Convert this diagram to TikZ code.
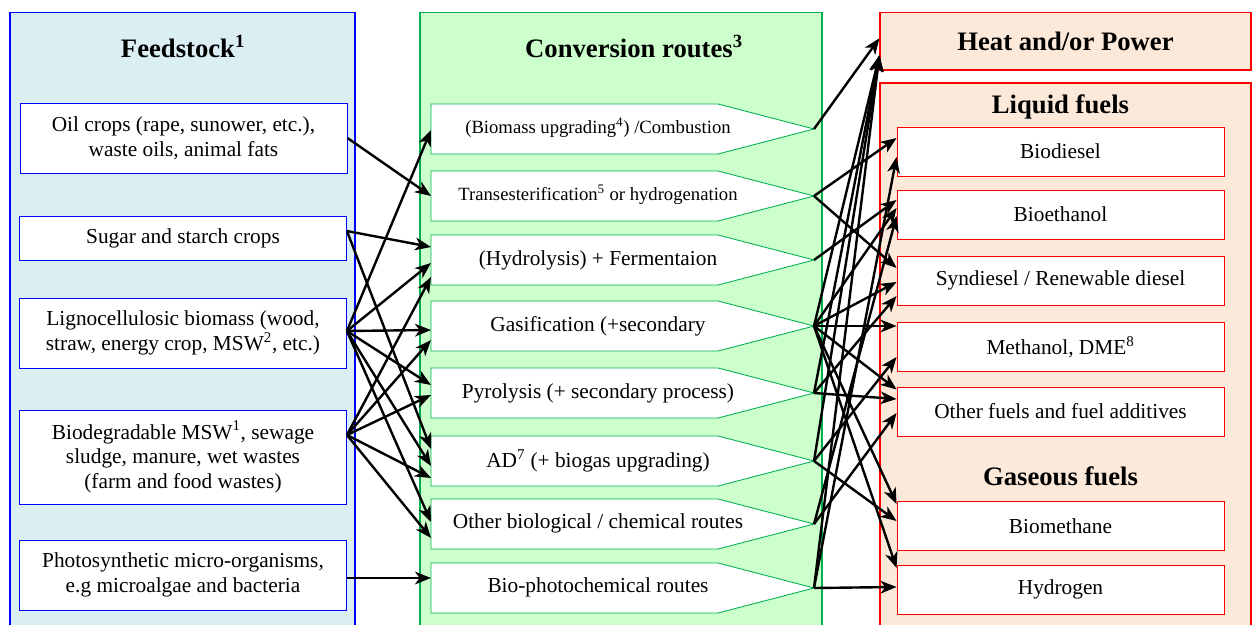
\documentclass[tikz,border=0pt]{standalone}
\usepackage{fontspec}
\setmainfont{Liberation Serif}
\usetikzlibrary{arrows.meta,calc}
\definecolor{fsfill}{HTML}{DAEEF3}
\definecolor{fsline}{HTML}{0000FF}
\definecolor{cvfill}{HTML}{CCFFCC}
\definecolor{cvline}{HTML}{00B050}
\definecolor{opfill}{HTML}{FDE9D9}
\definecolor{opline}{HTML}{FF0000}
\newcommand\rtshape[2]{%
  \draw[rshape] (431,#2-25) -- (718,#2-25) -- (814,#2) -- (718,#2+25) -- (431,#2+25) -- cycle;
  \coordinate (#1in) at (431,#2);
  \coordinate (#1out) at (814,#2);
}
\begin{document}
\begin{tikzpicture}[x=0.75pt,y=-0.75pt,
  panel/.style={line width=0.9pt},
  ttl/.style={font=\bfseries\fontsize{20}{24}\selectfont, inner sep=0pt},
  fbox/.style={draw=fsline, fill=white, line width=0.65pt, minimum width=245.25pt,
    align=center, font=\fontsize{16}{18.5}\selectfont, inner sep=0pt},
  obox/.style={draw=opline, fill=white, line width=0.65pt, minimum width=245.25pt,
    minimum height=36.75pt, align=center, font=\fontsize{16}{18.5}\selectfont, inner sep=0pt},
  rshape/.style={draw=cvline, fill=white, line width=0.65pt},
  rtext/.style={font=\fontsize{16}{18.5}\selectfont, inner sep=0pt},
  rsmall/.style={font=\fontsize{14}{16}\selectfont, inner sep=0pt},
  conn/.style={line width=1.8pt, -{Stealth[length=12pt,width=9.5pt,inset=3.5pt]}}
]
\useasboundingbox (0,0) rectangle (1258,625);
\clip (0,0) rectangle (1258,625);

% panels
\draw[panel, draw=fsline, fill=fsfill] (10,12.5) rectangle (355,640);
\draw[panel, draw=cvline, fill=cvfill] (420,12.5) rectangle (822,640);
\draw[panel, draw=opline, fill=opfill] (880,83) rectangle (1251,640);
\node[draw=opline, fill=opfill, line width=0.9pt, minimum width=278.25pt, minimum height=43.1pt, inner sep=0pt,
  font=\bfseries\fontsize{20}{24}\selectfont] (heat) at (1065.5,41.25) {Heat and/or Power};

% titles
\node[ttl] (tfs) at (183,46) {Feedstock\textsuperscript{1}};
\node[ttl] (tcv) at (634,46) {Conversion routes\textsuperscript{3}};
\node[ttl] (tlq) at (1060.5,107) {Liquid fuels};
\node[ttl] (tgs) at (1060.5,476) {Gaseous fuels};

% feedstock boxes
\node[fbox, minimum height=52.5pt] (oil) at (183.5,138) {Oil crops (rape, sunower, etc.),\\ waste oils, animal fats};
\node[fbox, minimum height=33pt] (sug) at (183,238) {Sugar and starch crops};
\node[fbox, minimum height=52.5pt] (lig) at (183,333) {Lignocellulosic biomass (wood,\\ straw, energy crop, MSW\textsuperscript{2}, etc.)};
\node[fbox, minimum height=70.5pt] (bio) at (183,457) {Biodegradable MSW\textsuperscript{1}, sewage\\ sludge, manure, wet wastes\\ (farm and food wastes)};
\node[fbox, minimum height=52.5pt] (pho) at (183,575) {Photosynthetic micro-organisms,\\ e.g microalgae and bacteria};

% conversion routes
\rtshape{r1}{129}
\rtshape{r2}{196}
\rtshape{r3}{260}
\rtshape{r4}{326}
\rtshape{r5}{393}
\rtshape{r6}{461}
\rtshape{r7}{524}
\rtshape{r8}{588}
\node[rsmall] (t1) at (598,128) {(Biomass upgrading\textsuperscript{4}) /Combustion};
\node[rsmall] (t2) at (598,195) {Transesterification\textsuperscript{5} or hydrogenation};
\node[rtext] (t3) at (598,260) {(Hydrolysis) + Fermentaion};
\node[rtext] (t4) at (598,326) {Gasification (+secondary};
\node[rtext] (t5) at (598,393) {Pyrolysis (+ secondary process)};
\node[rtext] (t6) at (598,461) {AD\textsuperscript{7} (+ biogas upgrading)};
\node[rtext] (t7) at (598,523) {Other biological / chemical routes};
\node[rtext] (t8) at (598,587) {Bio-photochemical routes};

% output boxes
\node[obox] (bd) at (1060.5,151.5) {Biodiesel};
\node[obox] (be) at (1060.5,214.5) {Bioethanol};
\node[obox] (sd) at (1060.5,280.5) {Syndiesel / Renewable diesel};
\node[obox] (me) at (1060.5,347) {Methanol, DME\textsuperscript{8}};
\node[obox] (of) at (1060.5,411.5) {Other fuels and fuel additives};
\node[obox] (bm) at (1060.5,526) {Biomethane};
\node[obox] (hy) at (1060.5,589.5) {Hydrogen};

% feedstock -> routes
\draw[conn] (oil.east) -- (r2in);
\draw[conn] ($(sug.east)+(0,-7)$) -- ($(r3in)+(0,-13)$);
\draw[conn] ($(sug.east)+(0,-7)$) -- ($(r6in)+(0,-12)$);
\draw[conn] ($(lig.east)+(0,-2)$) -- ($(r1in)+(0,1)$);
\draw[conn] ($(lig.east)+(0,-2)$) -- ($(r3in)+(0,3)$);
\draw[conn] ($(lig.east)+(0,-2)$) -- ($(r4in)+(0,4)$);
\draw[conn] ($(lig.east)+(0,-2)$) -- ($(r5in)+(0,-8)$);
\draw[conn] ($(lig.east)+(0,-2)$) -- ($(r6in)+(0,5)$);
\draw[conn] ($(lig.east)+(0,-2)$) -- ($(r7in)+(0,-2)$);
\draw[conn] ($(bio.east)+(0,-22)$) -- ($(r3in)+(0,17)$);
\draw[conn] ($(bio.east)+(0,-22)$) -- ($(r4in)+(0,14)$);
\draw[conn] ($(bio.east)+(0,-22)$) -- ($(r5in)+(0,2)$);
\draw[conn] ($(bio.east)+(0,-22)$) -- ($(r6in)+(0,17)$);
\draw[conn] ($(bio.east)+(0,-22)$) -- ($(r7in)+(0,14)$);
\draw[conn] ($(pho.east)+(0,3)$) -- ($(r8in)+(0,-10)$);

% routes -> outputs
\draw[conn] (r1out) -- ($(heat.west)+(0,-3)$);
\draw[conn] (r4out) -- ($(heat.west)+(0,14)$);
\draw[conn] (r5out) -- ($(heat.west)+(0,14)$);
\draw[conn] (r6out) -- ($(heat.west)+(0,14)$);
\draw[conn] (r8out) -- ($(heat.west)+(0,14)$);
\draw[conn] (r2out) -- ($(bd.west)+(0,-13.5)$);
\draw[conn] (r8out) -- ($(bd.west)+(0,5.5)$);
\draw[conn] (r3out) -- ($(be.west)+(0,-14.5)$);
\draw[conn] (r4out) -- ($(be.west)+(0,-6.5)$);
\draw[conn] (r7out) -- ($(be.west)+(0,1.5)$);
\draw[conn] (r2out) -- ($(sd.west)+(0,-12.5)$);
\draw[conn] (r4out) -- ($(sd.west)+(0,1.5)$);
\draw[conn] (r5out) -- ($(sd.west)+(0,15.5)$);
\draw[conn] (r4out) -- ($(me.west)+(0,-21)$);
\draw[conn] (r6out) -- ($(me.west)+(0,10)$);
\draw[conn] (r4out) -- ($(of.west)+(0,-22)$);
\draw[conn] (r5out) -- ($(of.west)+(0,-12.5)$);
\draw[conn] (r7out) -- ($(of.west)+(0,1.5)$);
\draw[conn] (r4out) -- ($(bm.west)+(0,-22)$);
\draw[conn] (r6out) -- ($(bm.west)+(0,-5)$);
\draw[conn] (r4out) -- ($(hy.west)+(0,-21.5)$);
\draw[conn] (r8out) -- ($(hy.west)+(0,-2.5)$);
\end{tikzpicture}
\end{document}
